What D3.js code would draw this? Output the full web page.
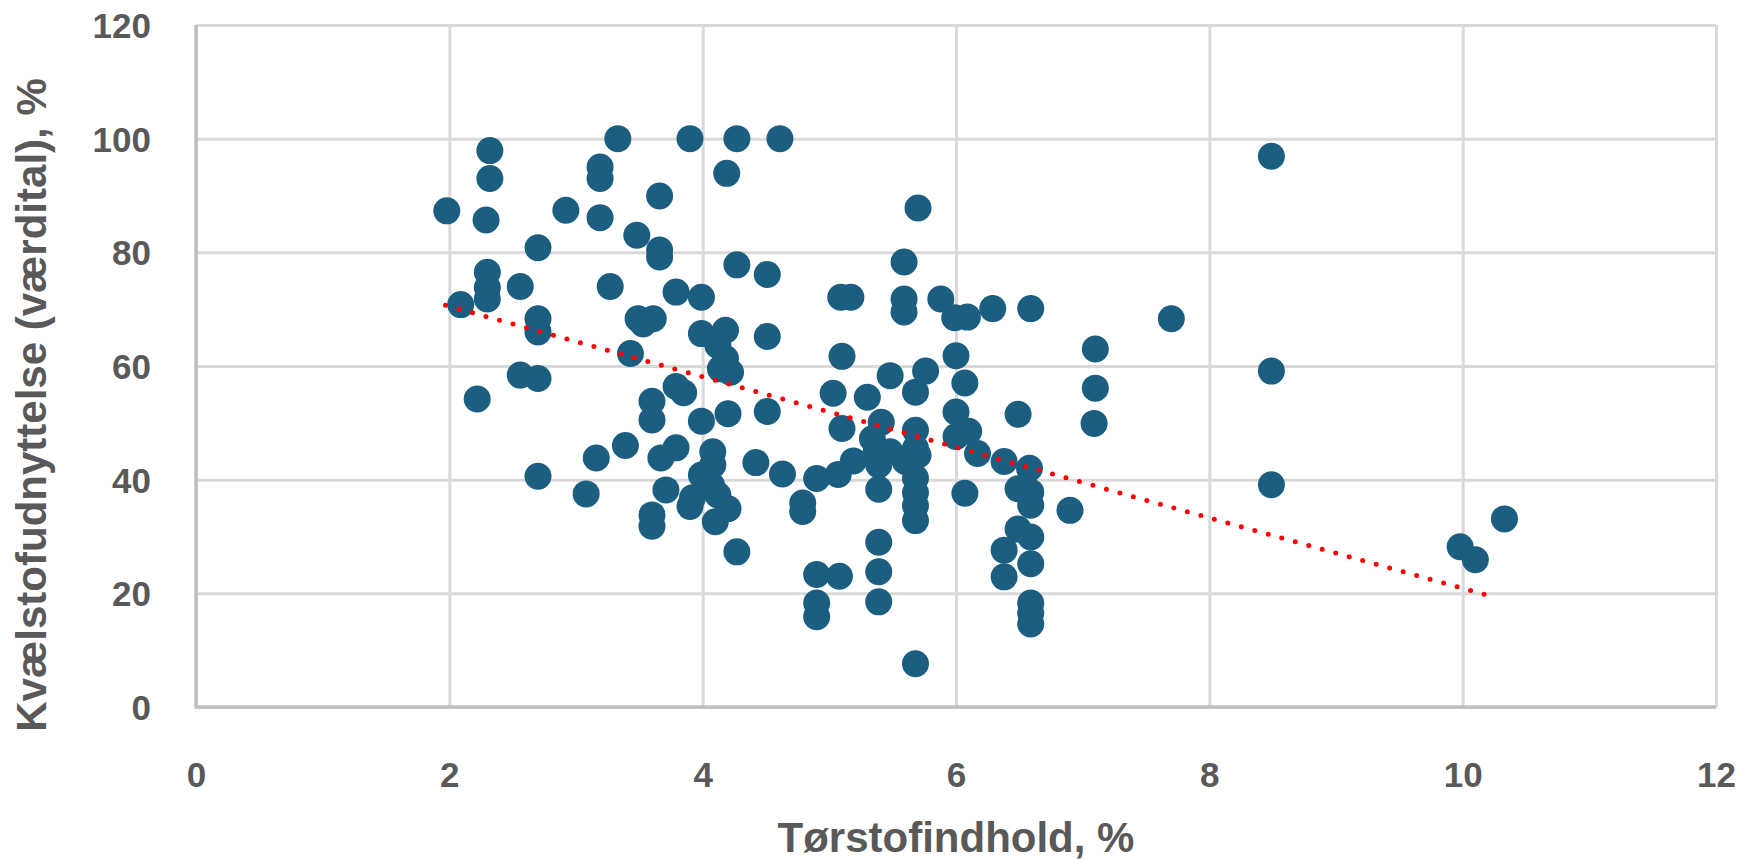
<!DOCTYPE html>
<html>
<head>
<meta charset="utf-8">
<script src="https://cdn.jsdelivr.net/npm/d3@7"></script>
<style>
  html, body { margin: 0; padding: 0; background: #ffffff; }
  svg { display: block; }
</style>
</head>
<body>
<svg id="chart" width="1751" height="865"></svg>
<script>
// ---- Data ----
const torstof = [
  1.98, 2.09, 2.22, 2.32, 2.32, 2.29, 2.30, 2.30, 2.30, 2.56,
  2.56, 2.70, 2.70, 2.70, 2.70, 2.70, 2.92, 3.08, 3.16, 3.19,
  3.19, 3.19, 3.27, 3.33, 3.39, 3.43, 3.48, 3.49, 3.53, 3.61,
  3.60, 3.60, 3.60, 3.60, 3.66, 3.66, 3.66, 3.67, 3.71, 3.79,
  3.79, 3.79, 3.85, 3.90, 3.90, 3.92, 3.99, 4.07, 4.12, 4.10,
  4.20, 3.99, 3.99, 3.99, 4.08, 4.08, 4.18, 4.12, 4.18, 4.14,
  4.22, 4.19, 4.20, 4.27, 4.27, 4.27, 4.42, 4.51, 4.51, 4.51,
  4.61, 4.63, 4.79, 4.79, 4.90, 4.90, 4.90, 4.90, 5.03, 5.09,
  5.17, 5.10, 5.10, 5.07, 5.08, 5.19, 5.30, 5.41, 5.34, 5.37,
  5.39, 5.39, 5.39, 5.39, 5.39, 5.48, 5.48, 5.59, 5.59, 5.59,
  5.60, 5.68, 5.70, 5.68, 5.68, 5.70, 5.68, 5.68, 5.68, 5.68,
  5.68, 5.76, 5.88, 5.99, 6.09, 6.00, 6.07, 6.00, 6.00, 6.10,
  6.07, 6.17, 6.29, 6.38, 6.38, 6.38, 6.49, 6.49, 6.49, 6.59,
  6.58, 6.59, 6.59, 6.59, 6.59, 6.59, 6.59, 6.59, 6.90, 7.10,
  7.10, 7.09, 7.70, 8.49, 8.49, 8.49, 9.98, 10.10, 10.33
];
const kvaelstof = [
  87.3, 70.8, 54.2, 97.9, 93.0, 85.7, 76.5, 73.8, 71.8, 74.0,
  58.4, 80.8, 68.3, 66.0, 57.8, 40.6, 87.4, 37.5, 43.8, 95.0,
  93.0, 86.1, 74.0, 100.0, 46.0, 62.2, 83.0, 68.3, 67.4, 68.3,
  53.8, 50.5, 33.8, 31.8, 89.9, 80.4, 79.2, 43.8, 38.2, 73.0,
  45.6, 56.4, 55.3, 100.0, 35.3, 36.8, 40.8, 39.0, 37.3, 32.6,
  34.9, 72.1, 65.7, 50.3, 44.9, 42.6, 66.3, 63.6, 61.3, 59.5,
  58.9, 93.9, 51.6, 100.0, 77.8, 27.3, 43.0, 76.1, 65.2, 52.0,
  100.0, 41.0, 35.9, 34.4, 40.2, 23.3, 18.3, 15.9, 55.2, 72.1,
  72.1, 61.7, 49.0, 40.9, 23.0, 43.3, 54.5, 50.1, 47.2, 44.9,
  42.6, 38.3, 29.0, 23.8, 18.5, 58.3, 44.9, 78.3, 71.8, 69.5,
  43.2, 55.4, 87.8, 48.7, 45.5, 44.3, 40.3, 37.7, 35.4, 32.8,
  7.6, 59.1, 71.8, 68.5, 68.6, 61.8, 57.0, 51.9, 47.6, 48.5,
  37.6, 44.6, 70.1, 43.2, 27.6, 22.9, 51.5, 38.4, 31.3, 70.1,
  42.0, 37.8, 35.5, 29.9, 25.2, 18.3, 16.5, 14.6, 34.6, 63.0,
  56.1, 49.9, 68.3, 96.9, 59.1, 39.1, 28.2, 25.9, 33.1
];
// Linear trendline endpoints
const trendX = [1.97, 10.24];
const trendY = [70.7, 19.4];
const xTicks = [0, 2, 4, 6, 8, 10, 12];
const yTicks = [0, 20, 40, 60, 80, 100, 120];
const xTitle = "Tørstofindhold, %";
const yTitle = "Kvælstofudnyttelse (værdital), %";

(function () {
// ---- Layout ----
const mLeft = 196, mRight = 1716, mTop = 25, mBottom = 707;
const svg = d3.select("#chart");
const x = d3.scaleLinear().domain([0, 12]).range([mLeft, mRight]);
const y = d3.scaleLinear().domain([0, 120]).range([mBottom, mTop]);

const gridColor = "#d9d9d9";
const axisColor = "#bfbfbf";
const textColor = "#595959";
const font = "'Liberation Sans', Arial, sans-serif";

// Gridlines
const gx = svg.append("g").attr("transform", `translate(0,${mBottom})`)
  .call(d3.axisBottom(x).tickValues(xTicks).tickSize(-(mBottom - mTop)).tickFormat(""));
gx.select(".domain").remove();
gx.selectAll(".tick line").attr("stroke", gridColor).attr("stroke-width", 3);

const gy = svg.append("g").attr("transform", `translate(${mLeft},0)`)
  .call(d3.axisLeft(y).tickValues(yTicks).tickSize(-(mRight - mLeft)).tickFormat(""));
gy.select(".domain").remove();
gy.selectAll(".tick line").attr("stroke", gridColor).attr("stroke-width", 3);

// Axis lines
svg.append("line").attr("x1", x(0)).attr("x2", x(0)).attr("y1", y(120)).attr("y2", y(0))
  .attr("stroke", axisColor).attr("stroke-width", 3.5);
svg.append("line").attr("x1", x(0) - 1.5).attr("x2", x(12)).attr("y1", y(0)).attr("y2", y(0))
  .attr("stroke", axisColor).attr("stroke-width", 3.5);

// Tick labels
const xa = svg.append("g").attr("transform", `translate(0,${mBottom})`)
  .call(d3.axisBottom(x).tickValues(xTicks).tickSize(0).tickPadding(0).tickFormat(d3.format("d")));
xa.select(".domain").remove();
xa.selectAll("text").attr("y", 80).attr("dy", null)
  .attr("font-family", font).attr("font-weight", "bold").attr("font-size", 35).attr("fill", textColor);

const ya = svg.append("g").attr("transform", `translate(${mLeft},0)`)
  .call(d3.axisLeft(y).tickValues(yTicks).tickSize(0).tickPadding(0).tickFormat(d3.format("d")));
ya.select(".domain").remove();
ya.selectAll("text").attr("x", -45).attr("dy", "0.36em")
  .attr("font-family", font).attr("font-weight", "bold").attr("font-size", 35).attr("fill", textColor);

// Points
const pts = torstof.map((v, i) => ({x: v, y: kvaelstof[i]}));
svg.append("g").selectAll("circle").data(pts).enter().append("circle")
  .attr("cx", d => x(d.x)).attr("cy", d => y(d.y)).attr("r", 13.5)
  .attr("fill", "#1b5e80");

// Trendline (dotted red)
const trend = trendX.map((v, i) => [v, trendY[i]]);
const line = d3.line().x(d => x(d[0])).y(d => y(d[1]));
svg.append("path").datum(trend).attr("d", line)
  .attr("fill", "none").attr("stroke", "#ff0000").attr("stroke-width", 5)
  .attr("stroke-linecap", "round").attr("stroke-dasharray", "0 14");

// Axis titles
svg.append("text").attr("x", (mLeft + mRight) / 2).attr("y", 852)
  .attr("text-anchor", "middle").attr("font-family", font).attr("font-weight", "bold")
  .attr("font-size", 42).attr("fill", textColor).text(xTitle);
svg.append("text").attr("transform", "translate(46,405) rotate(-90)")
  .attr("text-anchor", "middle").attr("font-family", font).attr("font-weight", "bold")
  .attr("font-size", 42).attr("fill", textColor).text(yTitle);
})();
</script>
</body>
</html>
